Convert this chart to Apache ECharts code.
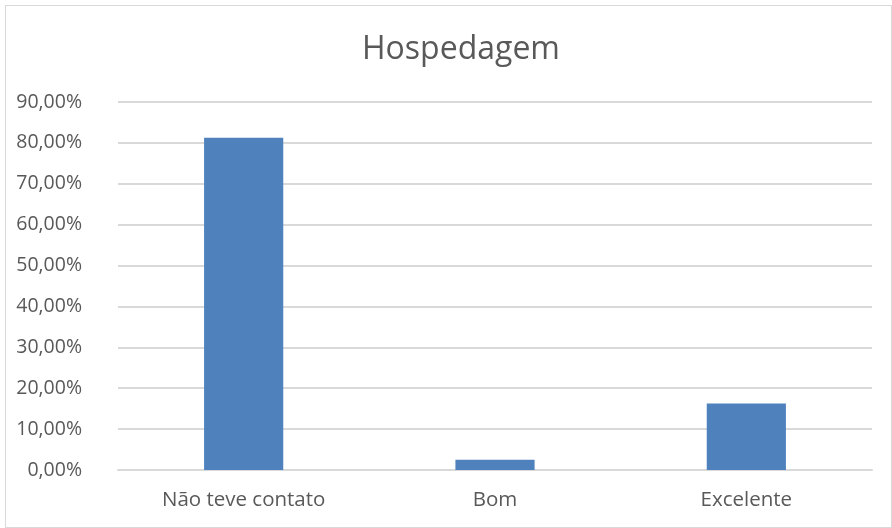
<!DOCTYPE html>
<html>
<head>
<meta charset="utf-8">
<script src="https://cdn.jsdelivr.net/npm/echarts@6/dist/echarts.min.js"></script>
<style>
  html, body { margin: 0; padding: 0; background: #fff; }
  #frame { position: absolute; left: 5px; top: 5px; width: 887px; height: 523px; border: 1px solid #d9d9d9; box-sizing: border-box; }
  #chart { width: 892px; height: 528px; position: absolute; left: 0; top: 0; }
</style>
</head>
<body>
<div id="frame"></div>
<div id="chart"></div>
<script>
// Hospedagem: share of answers per rating
const chartTitle = 'Hospedagem';
const categories = ['Não teve contato', 'Bom', 'Excelente'];
const shares = [81.25, 2.5, 16.25];

const fontFamily = '"Open Sans", "Liberation Sans", sans-serif';
const textColor = '#595959';

const chart = echarts.init(document.getElementById('chart'), null, { renderer: 'canvas' });
chart.setOption({
  animation: false,
  title: {
    text: chartTitle,
    left: 357,
    top: 29,
    textStyle: { fontFamily, fontSize: 32, fontWeight: 'normal', color: textColor }
  },
  grid: { left: 118, right: 20, top: 102, bottom: 58, containLabel: false },
  xAxis: {
    type: 'category',
    data: categories,
    axisLine: { show: true, lineStyle: { color: '#d9d9d9', width: 2 } },
    axisTick: { show: false },
    axisLabel: { fontFamily, fontSize: 20.5, color: textColor, margin: 20 }
  },
  yAxis: {
    type: 'value',
    min: 0,
    max: 90,
    interval: 10,
    axisLine: { show: false },
    axisTick: { show: false },
    splitLine: { lineStyle: { color: '#d9d9d9', width: 2 } },
    axisLabel: {
      fontFamily, fontSize: 19.5, color: textColor, margin: 36,
      formatter: v => v.toFixed(2).replace('.', ',') + '%'
    }
  },
  series: [{
    type: 'bar',
    data: shares,
    barWidth: '31.5%',
    itemStyle: { color: '#4f81bd' }
  }]
});
</script>
</body>
</html>
